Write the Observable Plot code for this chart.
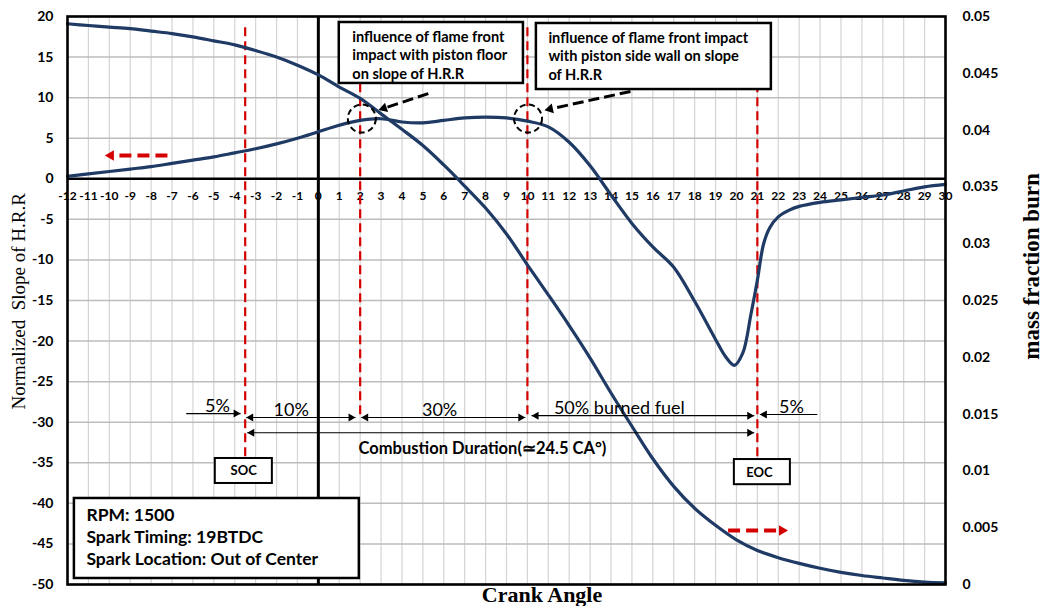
<!DOCTYPE html>
<html><head><meta charset="utf-8">
<script src="https://cdn.jsdelivr.net/npm/d3@7"></script>
<script src="https://cdn.jsdelivr.net/npm/@observablehq/plot@0.6"></script>
<style>
html,body{margin:0;padding:0;background:#fff;}
#chart{width:1043px;height:606px;overflow:hidden;}
</style></head><body><div id="chart"></div>
<script>
// ---- data ----
const crankAngleHRR = [-12,-11,-10,-9,-8,-7,-6,-5,-4,-3,-2,-1,0,1,2,3,4,5,6,7,8,9,10,11,12,13,14,15,16,17,18,19,19.5,19.9,20.3,20.7,21,21.3,21.6,22,22.5,23,24,25,26,27,28,29,30];
const slopeHRR = [0.3,0.6,0.9,1.2,1.5,1.9,2.3,2.7,3.2,3.7,4.3,5.0,5.8,6.6,7.2,7.4,7.0,6.9,7.2,7.5,7.6,7.5,7.1,6.4,4.5,1.6,-2.0,-5.5,-8.4,-10.9,-15.1,-19.8,-22.0,-23.0,-21.5,-16.6,-12.5,-8.0,-6.0,-4.7,-3.9,-3.4,-2.9,-2.6,-2.3,-2.0,-1.5,-1.0,-0.7];
const crankAngleMFB = [-12,-11,-10,-9,-8,-7,-6,-5,-4,-3,-2,-1,0,1,2,3,4,5,6,7,8,9,10,11,12,13,14,15,16,17,18,19,20,21,22,23,24,25,26,27,28,29,30];
const massFractionBurn = [0.04936,0.04921,0.04907,0.04893,0.04871,0.0485,0.04821,0.04786,0.0475,0.047,0.04643,0.04571,0.04486,0.04379,0.04279,0.04143,0.04007,0.03864,0.03693,0.03507,0.03314,0.03086,0.02814,0.0255,0.02279,0.01993,0.01686,0.01393,0.01107,0.00864,0.00671,0.00521,0.00393,0.003,0.00236,0.00186,0.00143,0.00107,0.00079,0.00057,0.00036,0.00021,0.00014];
const leftTickValues = [20,15,10,5,0,-5,-10,-15,-20,-25,-30,-35,-40,-45,-50];
const rightTickValues = [0.05,0.045,0.04,0.035,0.03,0.025,0.02,0.015,0.01,0.005,0];
const xTickValues = [-12,-11,-10,-9,-8,-7,-6,-5,-4,-3,-2,-1,0,1,2,3,4,5,6,7,8,9,10,11,12,13,14,15,16,17,18,19,20,21,22,23,24,25,26,27,28,29,30];
const phaseBoundaries = [-3.5, 2, 10, 21];
const phaseLabels = ["10%", "30%", "50% burned fuel"];
const leftNote = "influence of flame front\nimpact with piston floor\non slope of H.R.R";
const rightNote = "influence of flame front impact\nwith piston side wall on slope\nof H.R.R";
const infoNote = "RPM: 1500\nSpark Timing: 19BTDC\nSpark Location: Out of Center";

// ---- layout ----
const W = 1043, H = 606, ML = 67, MR = 98, MT = 16, MB = 22;
const xDom = [-12, 30], yDom = [-50, 20];
const kx = (W - ML - MR) / (xDom[1] - xDom[0]);
const ky = (H - MT - MB) / (yDom[1] - yDom[0]);
const toLeft = d3.scaleLinear().domain([0, 0.05]).range([-50, 20]);

const hrr = crankAngleHRR.map((x, i) => ({x, y: slopeHRR[i]}));
const mfb = crankAngleMFB.map((x, i) => ({x, y: toLeft(massFractionBurn[i])}));

const SANS = "Lato, 'Open Sans', sans-serif";
const SERIF = "'Liberation Serif', 'DejaVu Serif', serif";
const NAVY = "#1f3a64";
const RED = "#d40000";

// arrow head (triangle) whose tip sits at (x2,y2), coming from (x1,y1)
function head(x2, y2, x1, y1, r) {
  const sdx = (x2 - x1) * kx, sdy = -(y2 - y1) * ky;
  const len = Math.hypot(sdx, sdy);
  const ux = sdx / len, uy = sdy / len;
  const back = 1.5 * r;
  return {x: x2 - ux * back / kx, y: y2 + uy * back / ky, r, rotate: Math.atan2(sdx, -sdy) * 180 / Math.PI};
}
function shorten(x1, y1, x2, y2, px) {
  const sdx = (x2 - x1) * kx, sdy = (y2 - y1) * ky;
  const len = Math.hypot(sdx, sdy);
  const f = (len - px) / len;
  return {x1, y1, x2: x1 + (x2 - x1) * f, y2: y1 + (y2 - y1) * f};
}

// red dashed direction arrows
const redArrows = [
  {x1: -7.22, y1: 2.87, x2: -10.3, y2: 2.87},
  {x1: 19.6, y1: -43.35, x2: 22.55, y2: -43.35}
];
// black dashed pointers to circles
const pointers = [
  {x1: 5.26, y1: 10.5, x2: 2.82, y2: 8.42},
  {x1: 14.93, y1: 10.76, x2: 10.76, y2: 8.42}
];
const circles = [{x: 2.08, y: 7.42}, {x: 10.03, y: 7.42}];

// phase arrows (thin black)
const phaseY = -29.42;
const phaseArrows = [
  {x1: -3.45, x2: 1.78, y: phaseY, both: true},
  {x1: 2.05, x2: 9.9, y: phaseY, both: true},
  {x1: 10.2, x2: 20.85, y: -29.2, both: true},
  {x1: -6.32, x2: -3.72, y: -28.93, both: false},
  {x1: 23.87, x2: 21.12, y: -29.05, both: false},
  {x1: -3.4, x2: 20.85, y: -31.3, both: true}
];
const heads = [];
for (const a of redArrows) heads.push({...head(a.x2, a.y2, a.x1, a.y1, 5.2), fill: RED});
for (const a of pointers) heads.push({...head(a.x2, a.y2, a.x1, a.y1, 4.6), fill: "black"});
for (const a of phaseArrows) {
  heads.push({...head(a.x2, a.y, a.x1, a.y, 3.1), fill: "black"});
  if (a.both) heads.push({...head(a.x1, a.y, a.x2, a.y, 3.1), fill: "black"});
}
const redLinks = redArrows.map(a => shorten(a.x1, a.y1, a.x2, a.y2, 8));
const pointerLinks = pointers.map(a => shorten(a.x1, a.y1, a.x2, a.y2, 7));

const phaseText = [
  {x: -4.83, y: -28.93, t: "5%"},
  {x: -1.3, y: phaseY, t: phaseLabels[0]},
  {x: 5.8, y: phaseY, t: phaseLabels[1]},
  {x: 14.4, y: -29.2, t: phaseLabels[2]},
  {x: 22.63, y: -29.05, t: "5%"}
];

const boxes = [
  {x1: 1.0, x2: 9.81, y1: 19.26, y2: 11.75, sw: 2.5},
  {x1: 10.43, x2: 21.67, y1: 19.14, y2: 11.0, sw: 2.5},
  {x1: -11.67, x2: 1.96, y1: -39.4, y2: -49.26, sw: 2.5},
  {x1: -4.93, x2: -2.2, y1: -34.47, y2: -37.55, sw: 2},
  {x1: 19.9, x2: 22.58, y1: -34.6, y2: -37.7, sw: 2}
];

const chart = Plot.plot({
  width: W, height: H,
  marginLeft: ML, marginRight: MR, marginTop: MT, marginBottom: MB,
  x: {domain: xDom, axis: null},
  y: {domain: yDom, axis: null},
  style: {fontFamily: SANS, background: "white", overflow: "visible"},
  marks: [
    Plot.ruleX(xTickValues, {stroke: "#d4d4d4", strokeWidth: 1.2}),
    Plot.ruleY(leftTickValues, {stroke: "#bdbdbd", strokeWidth: 1.5}),
    Plot.ruleY([0], {stroke: "black", strokeWidth: 2.6}),
    Plot.text(xTickValues, {x: d => d, y: 0, dy: 17, text: d => String(d), fontSize: 12, fontWeight: "bold", fill: "black"}),
    Plot.ruleX([0], {stroke: "black", strokeWidth: 3}),
    // phase boundary lines
    Plot.ruleX(phaseBoundaries, {x: d => d, y1: 18.6, y2: d => (d === -3.5 || d === 21) ? -34.5 : -29.6,
      stroke: RED, strokeWidth: 2.2, strokeDasharray: "9,5"}),
    // curves
    Plot.line(mfb, {x: "x", y: "y", stroke: NAVY, strokeWidth: 3.2, curve: "catmull-rom"}),
    Plot.line(hrr, {x: "x", y: "y", stroke: NAVY, strokeWidth: 3.2, curve: "catmull-rom"}),
    // boxes
    Plot.rect(boxes, {x1: "x1", x2: "x2", y1: "y1", y2: "y2", fill: "white", stroke: "black", strokeWidth: d => d.sw}),
    Plot.text([leftNote], {x: 1.0, y: 19.26, dx: 13, dy: 7, textAnchor: "start", lineAnchor: "top", fontSize: 14.6, fontWeight: "bold", lineHeight: 1.24, fill: "black"}),
    Plot.text([rightNote], {x: 10.43, y: 19.14, dx: 12, dy: 7, textAnchor: "start", lineAnchor: "top", fontSize: 14.6, fontWeight: "bold", lineHeight: 1.24, fill: "black"}),
    Plot.text([infoNote], {x: -11.67, y: -39.4, dx: 12, dy: 7, textAnchor: "start", lineAnchor: "top", fontSize: 17.5, fontWeight: "bold", lineHeight: 1.25, fill: "black"}),
    Plot.text(["SOC"], {x: -3.57, y: -36.05, fontSize: 13, fontWeight: "bold", fill: "black"}),
    Plot.text(["EOC"], {x: 21.1, y: -36.2, fontSize: 13, fontWeight: "bold", fill: "black"}),
    // circles + pointers
    Plot.dot(circles, {x: "x", y: "y", r: 14, stroke: "black", strokeWidth: 2, strokeDasharray: "6,3.5", fill: "none"}),
    Plot.link(pointerLinks, {x1: "x1", y1: "y1", x2: "x2", y2: "y2", stroke: "black", strokeWidth: 3, strokeDasharray: "11,5"}),
    Plot.link(redLinks, {x1: "x1", y1: "y1", x2: "x2", y2: "y2", stroke: RED, strokeWidth: 4, strokeDasharray: "12,6"}),
    // phase arrows
    Plot.link(phaseArrows, {x1: "x1", x2: "x2", y1: "y", y2: "y", stroke: "black", strokeWidth: 1.2}),
    Plot.dot(heads, {x: "x", y: "y", r: "r", rotate: "rotate", symbol: "triangle", fill: "fill", stroke: null}),
    Plot.text(phaseText, {x: "x", y: "y", text: "t", dy: -2, lineAnchor: "bottom", fontSize: 18, fill: "black"}),
    Plot.text(["Combustion Duration(\u224324.5 CA\u00b0)"], {x: 7.85, y: -33.3, fontSize: 16.5, fontWeight: "bold", fill: "black"}),
    // frame
    Plot.frame({stroke: "black", strokeWidth: 2.6}),
    // axis tick labels
    Plot.text(leftTickValues, {frameAnchor: "left", y: d => d, dx: -14, textAnchor: "end", text: d => String(d), fontSize: 14, fontWeight: "bold", fill: "black"}),
    Plot.text(rightTickValues, {frameAnchor: "right", y: d => toLeft(d), dx: 17, textAnchor: "start", text: d => String(d), fontSize: 14, fontWeight: "bold", fill: "black"}),
    // axis titles
    Plot.text(["Normalized\u00a0 Slope of H.R.R"], {frameAnchor: "left", y: -15.1, dx: -49, rotate: -90, textAnchor: "middle", fontFamily: SERIF, fontSize: 19, fill: "black"}),
    Plot.text(["mass fraction burn"], {frameAnchor: "right", y: -10.8, dx: 86, rotate: -90, textAnchor: "middle", fontFamily: SERIF, fontSize: 23, fontWeight: "bold", fill: "black"}),
    Plot.text(["Crank Angle"], {frameAnchor: "bottom", x: 10.7, dy: 17, textAnchor: "middle", fontFamily: SERIF, fontSize: 22, fontWeight: "bold", fill: "black"})
  ]
});
document.getElementById("chart").appendChild(chart);
</script>
</body></html>
